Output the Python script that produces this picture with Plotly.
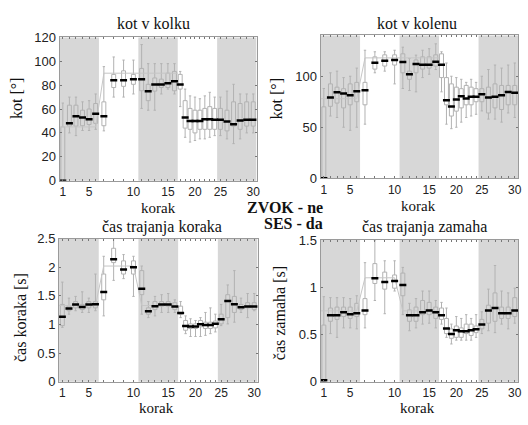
import plotly.graph_objects as go

# ---------------- data ----------------
steps = list(range(1, 31))
phase_counts = [6, 4, 6, 8, 6]          # steps per experimental phase
phase_shaded = [True, False, True, False, True]
tick_steps = [1, 5, 10, 15, 20, 25, 30]

# kot v kolku
kolk_med = [0, 48, 54, 53, 51.5, 56, 54, 84, 84, 85, 85, 74.8, 80.5, 80.5, 81.5, 83.3, 80.5,
            53, 50, 50, 50, 51.5, 51.5, 51, 51, 49.5, 47.3, 50.3, 51, 51]
kolk_q1 = [0, 45.7, 45.7, 46, 47, 48, 46, 78, 79, 80.7, 75.3, 67, 75, 78, 78, 75.3, 76.7,
           44, 43, 40, 43, 43, 43, 43, 43, 41.7, 45.7, 43, 45.7, 45.7]
kolk_q3 = [45, 63.2, 63.2, 59, 60, 64.6, 66, 89, 92, 89, 94, 80.7, 86, 85, 90, 91.5, 89,
           67, 60.5, 59, 59, 60.5, 62, 60.5, 60.5, 59, 66, 64.6, 66, 66]
kolk_lo = [0, 40, 37.7, 42, 42, 43, 41.7, 70, 70, 72.6, 60.5, 59, 59, 72.6, 76.7, 72.6, 62,
           36.3, 32.3, 33.6, 35, 35, 36.3, 37.7, 37.7, 35, 31, 35, 40, 40]
kolk_hi = [65, 70, 70, 66, 67, 72.6, 95.5, 103.6, 101, 101, 114, 98, 98, 98, 98, 98, 91.5,
           76.7, 71, 70, 68.6, 71, 74, 70, 70, 75, 80.7, 72.6, 72.6, 72.6]
kolk_ref = [45, 90, 90]

# kot v kolenu
kol_med = [0, 79.2, 84.3, 83.1, 81.3, 85.4, 86.2, 113.2, 115.1, 116, 114, 102, 112, 111.2, 111.2,
           114.2, 111.4, 76.5, 70.3, 77.3, 80.4, 78.3, 80, 80, 82.3, 79.2, 80, 81.3, 84.6, 83.8]
kol_q1 = [0, 70.5, 73.7, 69, 72, 75, 72, 107, 110, 111, 103.4, 97, 103.4, 107, 108, 110, 98.7,
          72, 61, 65.8, 69, 72, 72, 75, 75, 64, 69, 67.4, 72, 72]
kol_q3 = [70, 92.5, 89.3, 87.8, 92.5, 94, 94, 119, 121, 121, 122, 105, 116, 119, 119, 121, 122,
          98.7, 92.5, 89.3, 87.8, 91, 89.3, 87.8, 87.8, 89.3, 92.5, 91, 91, 91]
kol_lo = [0, 61, 59.6, 50, 47, 50, 53, 103.4, 105, 92.5, 88, 86, 84.7, 98.7, 102, 106.6, 84.7,
          53, 48.6, 50, 55, 59.6, 61, 62.7, 66, 58, 58, 55, 64, 59.6]
kol_hi = [88, 103.4, 105, 98.7, 100, 108, 125.5, 124, 124, 125.5, 128.5, 117.5, 120.7, 125.5, 127,
          131.8, 124, 113, 100, 98.7, 97, 94, 97, 94, 100, 106.6, 111, 108, 111, 113]
kol_ref = [78, 118, 118]

# čas trajanja koraka
kor_med = [1.135, 1.28, 1.35, 1.305, 1.35, 1.355, 1.565, 2.14, 1.96, 2.0, 1.625, 1.23, 1.32, 1.35,
           1.35, 1.315, 1.2, 0.975, 0.965, 0.965, 1.005, 0.99, 0.99, 1.015, 1.09, 1.41, 1.355,
           1.3, 1.315, 1.315]
kor_q1 = [0.98, 1.24, 1.29, 1.26, 1.29, 1.29, 1.43, 2.08, 1.88, 1.88, 1.52, 1.18, 1.26, 1.32, 1.32,
          1.26, 1.18, 0.9, 0.93, 0.93, 0.96, 0.93, 0.93, 0.94, 1.01, 1.12, 1.21, 1.26, 1.29, 1.26]
kor_q3 = [1.35, 1.32, 1.4, 1.35, 1.4, 1.4, 1.88, 2.33, 2.11, 2.11, 1.94, 1.29, 1.4, 1.4, 1.4,
          1.38, 1.32, 1.07, 1.01, 1.01, 1.07, 1.04, 1.04, 1.06, 1.18, 1.52, 1.49, 1.35, 1.38, 1.38]
kor_lo = [0.95, 1.18, 1.24, 1.21, 1.21, 1.24, 1.15, 1.77, 1.8, 1.49, 1.18, 1.12, 1.15, 1.21, 1.21,
          1.21, 1.12, 0.84, 0.79, 0.79, 0.79, 0.81, 0.84, 0.87, 0.98, 1.01, 1.04, 1.21, 1.12, 1.24]
kor_hi = [1.74, 1.46, 1.49, 1.57, 1.46, 1.88, 2.19, 2.5, 2.22, 2.19, 2.02, 1.4, 1.49, 1.52, 1.54,
          1.43, 1.4, 1.15, 1.1, 1.07, 1.12, 1.21, 1.29, 1.18, 1.35, 1.69, 1.94, 1.46, 1.54, 1.54]
kor_ref = [1.33, 2.02, 1.33]

# čas trajanja zamaha
zam_med = [0.015, 0.705, 0.705, 0.735, 0.715, 0.725, 0.755, 1.095, 1.055, 1.065, 1.025, 0.705,
           0.705, 0.735, 0.755, 0.735, 0.705, 0.565, 0.505, 0.545, 0.535, 0.535, 0.545, 0.555,
           0.605, 0.755, 0.78, 0.725, 0.725, 0.755]
zam_q1 = [0, 0.64, 0.66, 0.69, 0.67, 0.69, 0.71, 1.04, 0.98, 0.99, 0.91, 0.64, 0.64, 0.71, 0.71,
          0.67, 0.66, 0.51, 0.46, 0.47, 0.47, 0.51, 0.49, 0.52, 0.56, 0.62, 0.64, 0.67, 0.67, 0.69]
zam_q3 = [0.6, 0.78, 0.79, 0.79, 0.79, 0.83, 0.88, 1.25, 1.16, 1.13, 1.15, 0.76, 0.79, 0.86, 0.84,
          0.79, 0.78, 0.67, 0.56, 0.59, 0.57, 0.61, 0.61, 0.59, 0.66, 0.81, 0.94, 0.79, 0.79, 0.89]
zam_lo = [0, 0.51, 0.47, 0.57, 0.57, 0.56, 0.57, 0.86, 0.72, 0.96, 0.71, 0.54, 0.57, 0.61, 0.62,
          0.57, 0.61, 0.47, 0.4, 0.44, 0.44, 0.44, 0.44, 0.47, 0.51, 0.54, 0.52, 0.61, 0.56, 0.62]
zam_hi = [0.9, 0.89, 0.89, 0.89, 0.88, 0.91, 1.26, 1.5, 1.28, 1.28, 1.21, 0.83, 0.88, 0.96, 0.96,
          0.86, 0.84, 0.78, 0.61, 0.69, 0.67, 0.71, 0.67, 0.71, 0.74, 0.98, 1.23, 0.96, 0.94, 0.99]
zam_ref = [0.75, 1.1, 0.75]

titles = ["kot v kolku", "kot v kolenu", "čas trajanja koraka", "čas trajanja zamaha"]
ytitles = ["kot [°]", "kot [°]", "čas koraka [s]", "čas zamaha [s]"]
xtitle = "korak"
center_lines = ["ZVOK - ne", "SES - da"]

# ---------------- layout helpers ----------------
W, H = 528, 425
positions = []
for p, n in enumerate(phase_counts):
    for i in range(n):
        positions.append(p + (i + 0.5) / n)
tickvals = positions
ticktext = [str(s) if s in tick_steps else "" for s in steps]

panels = [
    dict(med=kolk_med, q1=kolk_q1, q3=kolk_q3, lo=kolk_lo, hi=kolk_hi, ref=kolk_ref,
         yr=[0, 120], dt=20, px=(60, 258.5), py=(31.5, 180)),
    dict(med=kol_med, q1=kol_q1, q3=kol_q3, lo=kol_lo, hi=kol_hi, ref=kol_ref,
         yr=[0, 140], dt=50, px=(323, 522), py=(29.5, 177.5)),
    dict(med=kor_med, q1=kor_q1, q3=kor_q3, lo=kor_lo, hi=kor_hi, ref=kor_ref,
         yr=[0, 2.5], dt=0.5, px=(59.5, 259.5), py=(240, 388.5)),
    dict(med=zam_med, q1=zam_q1, q3=zam_q3, lo=zam_lo, hi=zam_hi, ref=zam_ref,
         yr=[0, 1.5], dt=0.5, px=(323, 522), py=(241.5, 388.5)),
]

SERIF = "Liberation Serif, Times New Roman, serif"
SANS = "Liberation Sans, Arial, sans-serif"
BAND = "#d7d7d7"
BOXC = "#b2b2b2"
REFC = "#c6c6c6"
FRAME = "#9a9a9a"

fig = go.Figure()
layout = dict(width=W, height=H, margin=dict(l=0, r=0, t=0, b=0),
              paper_bgcolor="white", plot_bgcolor="white", showlegend=False,
              hovermode=False, shapes=[], annotations=[])

title_pos = [(155, 17), (420, 17), (163, 228), (428, 228)]
ytitle_pos = [(16.5, 94), (279, 95), (20.5, 322), (281.5, 317)]
xtitle_pos = [(160, 208), (422, 206), (158, 415.5), (421, 415.5)]

for k, pn in enumerate(panels):
    ax = "" if k == 0 else str(k + 1)
    xa, ya = "x" + ax, "y" + ax
    x0, x1 = pn["px"]
    y0, y1 = pn["py"]
    xdom = [x0 / W, x1 / W]
    ydom = [1 - y1 / H, 1 - y0 / H]
    n_ticks = int(round((pn["yr"][1] - pn["yr"][0]) / pn["dt"])) + 1
    yt = [round(pn["yr"][0] + i * pn["dt"], 3) for i in range(n_ticks)]
    layout["xaxis" + ax] = dict(domain=xdom, range=[0, 5], anchor=ya, tickvals=tickvals,
                                ticktext=ticktext, ticks="inside", ticklen=2, tickcolor="#777",
                                showline=True, linecolor=FRAME, mirror="ticks", showgrid=False,
                                zeroline=False, tickfont=dict(family=SANS, size=12, color="#222"),
                                fixedrange=True)
    layout["yaxis" + ax] = dict(domain=ydom, range=pn["yr"], anchor=xa, tickvals=yt,
                                ticktext=[("%g" % v) for v in yt], ticks="inside", ticklen=2,
                                tickcolor="#777", showline=True, linecolor=FRAME, mirror="ticks",
                                showgrid=False, zeroline=False,
                                tickfont=dict(family=SANS, size=13, color="#222"), fixedrange=True)
    for p, sh in enumerate(phase_shaded):
        if sh:
            layout["shapes"].append(dict(type="rect", xref=xa, yref=ya + " domain", x0=p, x1=p + 1,
                                         y0=0, y1=1, fillcolor=BAND, line=dict(width=0),
                                         layer="below"))
    rx, ry = [0.0], [pn["ref"][0]]
    idx = 0
    for p in range(3):
        for i in range(phase_counts[p]):
            rx.append(positions[idx])
            ry.append(pn["ref"][p])
            idx += 1
    rx.append(3.0)
    ry.append(pn["ref"][2])
    fig.add_trace(go.Scatter(x=rx, y=ry, mode="lines", line=dict(color=REFC, width=1),
                             xaxis=xa, yaxis=ya, hoverinfo="skip"))
    fig.add_trace(go.Box(x=positions, q1=pn["q1"], median=pn["med"], q3=pn["q3"],
                         lowerfence=pn["lo"], upperfence=pn["hi"], width=0.1,
                         whiskerwidth=0.6, line=dict(color=BOXC, width=1),
                         fillcolor="rgba(0,0,0,0)", boxpoints=False, xaxis=xa, yaxis=ya,
                         hoverinfo="skip"))
    fig.add_trace(go.Scatter(x=positions, y=pn["med"], mode="markers",
                             marker=dict(symbol="line-ew", size=5,
                                         line=dict(color="black", width=2.5)),
                             xaxis=xa, yaxis=ya, hoverinfo="skip"))
    tx, ty = title_pos[k]
    layout["annotations"].append(dict(text=titles[k], x=tx / W, y=1 - ty / H, xref="paper",
                                      yref="paper", showarrow=False, xanchor="center",
                                      yanchor="middle",
                                      font=dict(family=SERIF, size=16, color="#111")))
    tx, ty = ytitle_pos[k]
    layout["annotations"].append(dict(text=ytitles[k], x=tx / W, y=1 - ty / H, xref="paper",
                                      yref="paper", showarrow=False, textangle=-90,
                                      xanchor="center", yanchor="middle",
                                      font=dict(family=SERIF, size=16, color="#111")))
    tx, ty = xtitle_pos[k]
    layout["annotations"].append(dict(text=xtitle, x=tx / W, y=1 - ty / H, xref="paper",
                                      yref="paper", showarrow=False, xanchor="center",
                                      yanchor="middle",
                                      font=dict(family=SERIF, size=15, color="#111")))

for j, line in enumerate(center_lines):
    layout["annotations"].append(dict(text="<b>%s</b>" % line, x=327 / W, y=1 - (208 + 16 * j) / H,
                                      xref="paper", yref="paper", showarrow=False,
                                      xanchor="right", yanchor="middle",
                                      font=dict(family=SERIF, size=16, color="#111")))

fig.update_layout(**layout)
fig.write_html("out.html", config={"displayModeBar": False},
               post_script="document.body.style.margin='0';document.body.style.overflow='hidden';")
